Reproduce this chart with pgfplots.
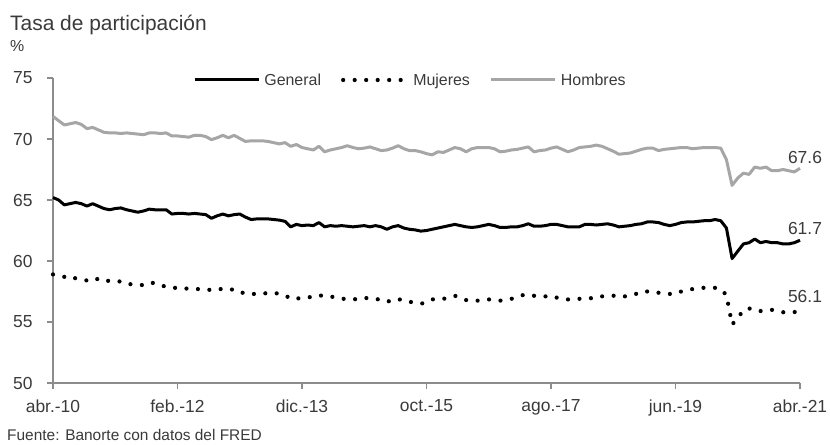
\documentclass[border=0pt]{standalone}
\usepackage{pgfplots}
\usepackage{pgfplotstable}
\pgfplotsset{compat=1.18}
\usepackage{fontspec}
\setmainfont{Liberation Sans}
\definecolor{hgray}{HTML}{A6A6A6}
\definecolor{axgray}{HTML}{8C8C8C}
\definecolor{txt}{HTML}{3A3A3A}

\pgfplotstableread{
x g m h
0 65.2 58.9 71.85
1 65.0 58.8 71.5
2 64.6 58.7 71.15
3 64.7 58.5 71.25
4 64.8 58.6 71.35
5 64.7 58.5 71.2
6 64.5 58.4 70.85
7 64.7 58.6 70.95
8 64.5 58.5 70.75
9 64.3 58.3 70.55
10 64.2 58.4 70.5
11 64.3 58.4 70.5
12 64.35 58.3 70.45
13 64.2 58.1 70.5
14 64.1 58.1 70.45
15 64.0 58.1 70.4
16 64.1 58.0 70.35
17 64.25 58.2 70.5
18 64.2 58.2 70.5
19 64.2 58.0 70.45
20 64.2 57.9 70.5
21 63.85 57.8 70.25
22 63.9 57.8 70.25
23 63.9 57.8 70.2
24 63.85 57.7 70.15
25 63.9 57.7 70.3
26 63.85 57.7 70.3
27 63.8 57.7 70.2
28 63.5 57.6 69.95
29 63.7 57.7 70.1
30 63.85 57.7 70.3
31 63.7 57.6 70.1
32 63.8 57.7 70.3
33 63.85 57.5 70.05
34 63.6 57.3 69.8
35 63.4 57.3 69.85
36 63.45 57.3 69.85
37 63.45 57.3 69.85
38 63.45 57.4 69.8
39 63.4 57.4 69.7
40 63.35 57.3 69.6
41 63.25 57.2 69.7
42 62.8 56.9 69.4
43 63.0 56.9 69.55
44 62.9 57.0 69.3
45 62.95 57.0 69.2
46 62.9 57.1 69.1
47 63.15 57.2 69.4
48 62.8 57.1 68.95
49 62.9 57.1 69.1
50 62.85 57.0 69.2
51 62.9 56.9 69.3
52 62.85 56.9 69.45
53 62.8 56.85 69.3
54 62.85 56.9 69.2
55 62.9 57.0 69.25
56 62.8 56.9 69.35
57 62.9 56.9 69.2
58 62.8 56.8 69.05
59 62.6 56.65 69.1
60 62.8 56.8 69.25
61 62.9 56.9 69.45
62 62.7 56.7 69.2
63 62.6 56.65 69.05
64 62.55 56.6 69.05
65 62.45 56.5 68.95
66 62.5 56.6 68.8
67 62.6 56.85 68.7
68 62.7 56.9 68.95
69 62.8 56.9 68.9
70 62.9 57.0 69.1
71 63.0 57.15 69.3
72 62.9 57.0 69.2
73 62.8 56.8 68.95
74 62.75 56.75 69.2
75 62.8 56.75 69.3
76 62.9 56.8 69.3
77 63.0 56.85 69.3
78 62.9 56.8 69.2
79 62.75 56.75 68.95
80 62.75 56.8 69.0
81 62.8 56.9 69.1
82 62.8 57.0 69.15
83 62.9 57.2 69.25
84 63.05 57.1 69.35
85 62.85 57.15 68.95
86 62.85 57.15 69.05
87 62.9 57.1 69.1
88 63.0 57.15 69.25
89 63.0 57.0 69.35
90 62.9 56.9 69.15
91 62.8 56.85 68.95
92 62.8 56.85 69.1
93 62.8 56.9 69.3
94 63.0 56.9 69.35
95 63.0 56.95 69.4
96 62.95 56.95 69.5
97 63.0 57.1 69.4
98 63.05 57.15 69.2
99 62.95 57.15 69.0
100 62.8 57.2 68.75
101 62.85 57.1 68.8
102 62.9 57.15 68.85
103 63.0 57.3 69.0
104 63.05 57.5 69.15
105 63.2 57.5 69.25
106 63.2 57.5 69.25
107 63.15 57.4 69.05
108 63.0 57.3 69.15
109 62.9 57.3 69.2
110 63.0 57.3 69.25
111 63.15 57.5 69.3
112 63.2 57.6 69.3
113 63.2 57.7 69.2
114 63.25 57.8 69.25
115 63.3 57.8 69.3
116 63.3 57.8 69.3
117 63.4 57.8 69.3
118 63.3 57.7 69.25
119 62.7 57.2 68.3
120 60.2 54.8 66.2
121 60.8 55.3 66.8
122 61.4 56.0 67.2
123 61.5 56.1 67.1
124 61.8 56.1 67.7
125 61.5 55.9 67.6
126 61.6 55.9 67.7
127 61.5 56.0 67.4
128 61.5 55.9 67.4
129 61.4 55.8 67.5
130 61.4 55.8 67.4
131 61.5 55.8 67.3
132 61.7 56.1 67.6
}\datatable

\begin{document}
\begin{tikzpicture}
\begin{axis}[
  scale only axis,
  width=747bp, height=305bp,
  xmin=0, xmax=132, ymin=50, ymax=75,
  xtick={0,22,...,132},
  xticklabels={abr.-10,feb.-12,dic.-13,oct.-15,ago.-17,jun.-19,abr.-21},
  ytick={50,55,...,75},
  axis x line*=bottom, axis y line*=left,
  axis line style={axgray, line width=1.4bp},
  every tick/.style={axgray, line width=1.2bp},
  major tick length=6bp, tick align=outside,
  /pgf/number format/assume math mode=true,
  tick label style={font=\fontsize{17.5}{20}\selectfont, text=txt},
  xticklabel style={yshift=-7bp},
  yticklabel style={xshift=-11bp},
  clip=false,
  legend columns=3,
  legend style={at={(rel axis cs:0.5,1)}, anchor=center, xshift=-15bp, yshift=-2bp, draw=none, fill=none,
    font=\fontsize{16}{18}\selectfont, text=txt,
    nodes={inner xsep=4bp},
    /tikz/every even column/.append style={column sep=16bp}},
  legend cell align=left,
  legend image code/.code={\draw[#1] (0bp,0bp) -- (64bp,0bp);},
]
\addplot[black, line width=3bp, line join=round] table[x=x, y=g] {\datatable};
\addlegendentry{General}
\addplot[black, line width=4.2bp, line cap=round, dash pattern=on 0bp off 11.5bp] table[x=x, y=m] {\datatable};
\addlegendentry{Mujeres}
\addplot[hgray, line width=3bp, line join=round] table[x=x, y=h] {\datatable};
\addlegendentry{Hombres}
\node[anchor=south, text=txt, font=\fontsize{17.5}{20}\selectfont, xshift=5bp, yshift=1bp] at (axis cs:132,67.6) {67.6};
\node[anchor=south, text=txt, font=\fontsize{17.5}{20}\selectfont, xshift=5bp, yshift=2bp] at (axis cs:132,61.7) {61.7};
\node[anchor=south, text=txt, font=\fontsize{17.5}{20}\selectfont, xshift=5bp, yshift=2bp] at (axis cs:132,56.1) {56.1};
\coordinate (SW) at (rel axis cs:0,0);
\coordinate (NW) at (rel axis cs:0,1);
\end{axis}
\node[anchor=base west, text=txt, font=\fontsize{21}{24}\selectfont, inner sep=0pt] at ([xshift=-43bp,yshift=47bp]NW) {Tasa de participación};
\node[anchor=base west, text=txt, font=\fontsize{16}{18}\selectfont, inner sep=0pt] at ([xshift=-43bp,yshift=26bp]NW) {\%};
\node[anchor=base west, text=txt, font=\fontsize{15.5}{18}\selectfont, inner sep=0pt] at ([xshift=-46bp,yshift=-57bp]SW) {Fuente: Banorte con datos del FRED};
\pgfresetboundingbox
\path[use as bounding box] ([xshift=-53bp,yshift=-62bp]SW) rectangle ++(830bp,445bp);
\end{tikzpicture}
\end{document}
